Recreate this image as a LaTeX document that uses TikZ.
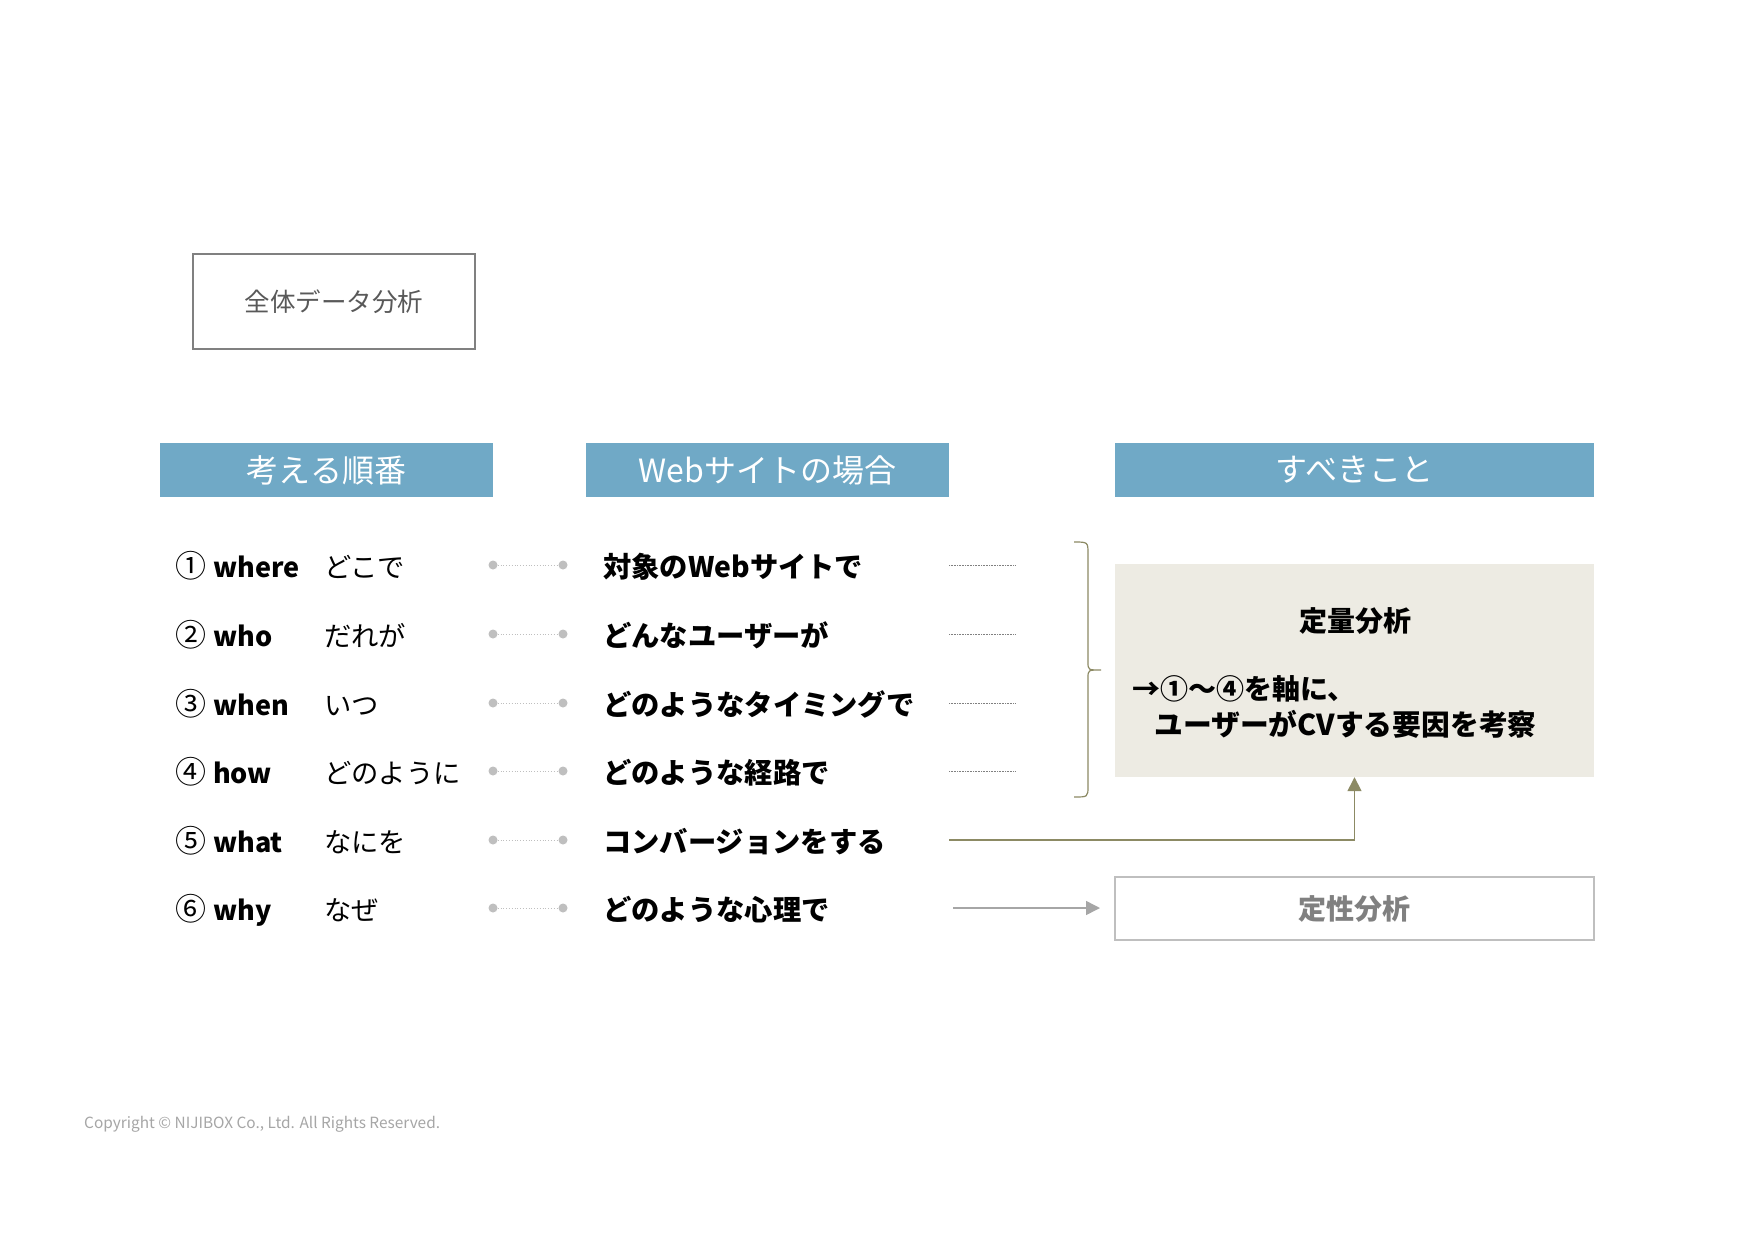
\documentclass[tikz,border=0pt]{standalone}
\usepackage{fontspec}
\setmainfont{Noto Sans CJK JP}
\newfontfamily\jp{Noto Sans CJK JP}
\usetikzlibrary{arrows.meta}
\definecolor{hdrblue}{HTML}{70A9C6}
\definecolor{olive}{HTML}{8C8A64}
\definecolor{boxfill}{HTML}{EDEBE3}
\definecolor{dotgray}{HTML}{BFBFBF}
\definecolor{txtgray}{HTML}{595959}
\begin{document}
\begin{tikzpicture}[x=1pt,y=-1pt,
  hdr/.style={fill=hdrblue,draw=none,text=white,minimum height=54pt,inner sep=0pt,
    font=\fontsize{32}{36}\selectfont},
  rowtxt/.style={anchor=base west,inner sep=0pt,yshift=-12.5pt},
  leftnum/.style={rowtxt,font=\fontsize{31}{34}\selectfont},
  eng/.style={rowtxt,font=\fontsize{27}{30}\selectfont\bfseries},
  hira/.style={rowtxt,font=\fontsize{27.3}{30}\selectfont},
  midtxt/.style={rowtxt,font=\fontsize{28.3}{31}\selectfont\bfseries},
  dotnode/.style={circle,fill=dotgray,draw=none,minimum size=9pt,inner sep=0pt},
  dotline/.style={draw=dotgray,line width=0.8pt,dotted},
  thindot/.style={draw=gray,line width=0.6pt,densely dotted},
]
\useasboundingbox (0,0) rectangle (1754,1239);
\fill[white] (0,0) rectangle (1754,1239);

% top box
\node[draw=gray,line width=2.5pt,minimum width=282pt,minimum height=95pt,inner sep=0pt,
  text=txtgray,font=\fontsize{25.5}{28}\selectfont] (zentai) at (334,301.5) {全体データ分析};

% headers
\node[hdr,minimum width=333pt] (h1) at (326.5,470) {考える順番};
\node[hdr,minimum width=363pt] (h2) at (767.5,470) {Webサイトの場合};
\node[hdr,minimum width=479pt] (h3) at (1354.5,470) {すべきこと};

% rows
\foreach \i/\y/\num/\en/\hi/\mid in {
  1/565/①/where/どこで/対象のWebサイトで,
  2/634/②/who/だれが/どんなユーザーが,
  3/703/③/when/いつ/どのようなタイミングで,
  4/771/④/how/どのように/どのような経路で,
  5/840/⑤/what/なにを/コンバージョンをする,
  6/908/⑥/why/なぜ/どのような心理で}{
  \node[leftnum] (n\i) at (175,\y) {\num};
  \node[eng] (e\i) at (213,\y) {\en};
  \node[hira] (k\i) at (324,\y) {\hi};
  \node[dotnode] (da\i) at (493,\y) {};
  \node[dotnode] (db\i) at (563,\y) {};
  \draw[dotline] (da\i) -- (db\i);
  \node[midtxt] (m\i) at (603,\y) {\mid};
}
\foreach \i/\y in {1/565,2/634,3/703,4/771}{
  \coordinate (ra\i) at (949,\y);
  \coordinate (rb\i) at (1016,\y);
  \draw[thindot] (ra\i) -- (rb\i);
}

% brace
\draw[olive,line width=1.2pt]
  (1074,542) .. controls (1088,542) .. (1088,554) -- (1088,662)
  .. controls (1088,670) .. (1101,670)
  .. controls (1088,670) .. (1088,678) -- (1088,786)
  .. controls (1088,797) .. (1074,797);

% quantitative box
\node[fill=boxfill,draw=none,minimum width=479pt,minimum height=213pt,inner sep=0pt] (teiryo) at (1354.5,670.5) {};
\node[font=\fontsize{28}{32}\selectfont\bfseries,inner sep=0pt] (teiryoT) at (1355,621) {定量分析};
\node[rowtxt,font=\fontsize{28}{32}\selectfont\bfseries] (l1) at (1132,687) {→①～④を軸に、};
\node[rowtxt,font=\fontsize{28.8}{32}\selectfont\bfseries] (l2) at (1154,723) {ユーザーがCVする要因を考察};

% qualitative box
\node[draw=dotgray,line width=1.5pt,fill=white,minimum width=479pt,minimum height=63pt,inner sep=0pt,
  text=gray,font=\fontsize{28}{32}\selectfont\bfseries] (teisei) at (1354.5,908.5) {定性分析};

% arrows
\coordinate (a5s) at (949,840);
\draw[olive,line width=1.5pt,-{Triangle[length=14pt,width=14pt]}]
  (a5s) -| (teiryo.south);
\coordinate (a6s) at (953,908);
\coordinate (a6e) at (1100,908);
\draw[gray!70,line width=1.5pt,-{Triangle[length=14pt,width=14pt]}] (a6s) -- (a6e);

% copyright
\node[anchor=west,inner sep=0pt,text=gray!70,font=\fontsize{15.4}{17}\selectfont] (copy) at (84,1124)
  {Copyright © NIJIBOX Co., Ltd. All Rights Reserved.};
\end{tikzpicture}
\end{document}
